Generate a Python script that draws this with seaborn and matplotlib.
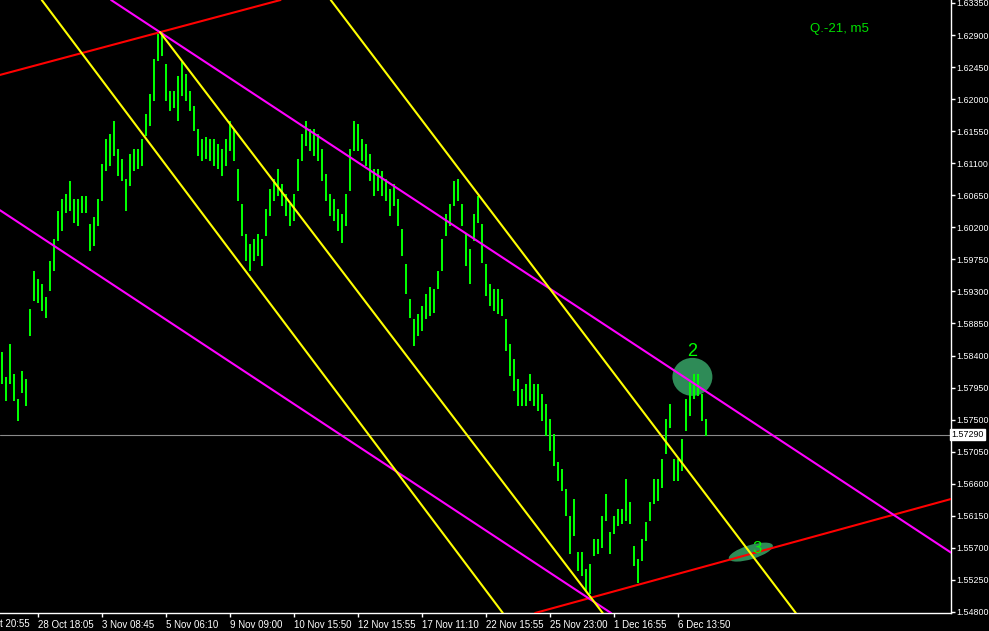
import numpy as np
import pandas as pd
import matplotlib
matplotlib.use("Agg")
import matplotlib.pyplot as plt
import matplotlib.transforms as mtransforms
from matplotlib.patches import Ellipse
import seaborn as sns

# ---------------- data ----------------
highs = [
    1.5844, 1.5808, 1.5855, 1.5813, 1.5778, 1.5817, 1.5806, 1.5904, 1.5957, 1.5946,
    1.5939, 1.5921, 1.5971, 1.6002, 1.6042, 1.6058, 1.6065, 1.6084, 1.6058, 1.6058,
    1.6063, 1.6063, 1.6023, 1.6033, 1.6058, 1.6108, 1.6143, 1.6150, 1.6168, 1.6129,
    1.6115, 1.6086, 1.6122, 1.6129, 1.6129, 1.6143, 1.6178, 1.6206, 1.6255, 1.6290,
    1.6294, 1.6248, 1.6210, 1.6210, 1.6231, 1.6251, 1.6234, 1.6210, 1.6189, 1.6157,
    1.6143, 1.6145, 1.6143, 1.6143, 1.6136, 1.6129, 1.6143, 1.6168, 1.6157, 1.6101,
    1.6051, 1.6009, 1.5995, 1.6002, 1.6009, 1.6002, 1.6044, 1.6072, 1.6086, 1.6101,
    1.6079, 1.6065, 1.6051, 1.6065, 1.6115, 1.6150, 1.6168, 1.6157, 1.6157, 1.6150,
    1.6129, 1.6093, 1.6065, 1.6058, 1.6044, 1.6037, 1.6065, 1.6129, 1.6168, 1.6164,
    1.6143, 1.6136, 1.6122, 1.6101, 1.6101, 1.6098, 1.6086, 1.6072, 1.6079, 1.6058,
    1.6016, 1.5967, 1.5918, 1.5890, 1.5897, 1.5908, 1.5925, 1.5935, 1.5932, 1.5957,
    1.6002, 1.6037, 1.6051, 1.6084, 1.6086, 1.6051, 1.6009, 1.5988, 1.6037, 1.6063,
    1.6023, 1.5967, 1.5939, 1.5932, 1.5932, 1.5918, 1.5890, 1.5855, 1.5834, 1.5806,
    1.5792, 1.5799, 1.5813, 1.5799, 1.5799, 1.5785, 1.5771, 1.5750, 1.5728, 1.5689,
    1.5679, 1.5651, 1.5613, 1.5637, 1.5563, 1.5563, 1.5539, 1.5546, 1.5581, 1.5581,
    1.5613, 1.5644, 1.5591, 1.5613, 1.5623, 1.5623, 1.5665, 1.5633, 1.5571, 1.5553,
    1.5581, 1.5605, 1.5633, 1.5665, 1.5665, 1.5693, 1.5750, 1.5771, 1.5693, 1.5693,
    1.5721, 1.5778, 1.5801, 1.5813, 1.5813, 1.5785, 1.5750]

lows = [
    1.5801, 1.5778, 1.5801, 1.5778, 1.5750, 1.5789, 1.5771, 1.5869, 1.5918, 1.5915,
    1.5904, 1.5894, 1.5932, 1.5960, 1.6002, 1.6016, 1.6042, 1.6044, 1.6027, 1.6023,
    1.6042, 1.6042, 1.5988, 1.5995, 1.6023, 1.6058, 1.6101, 1.6108, 1.6122, 1.6093,
    1.6086, 1.6044, 1.6079, 1.6101, 1.6103, 1.6108, 1.6150, 1.6164, 1.6199, 1.6255,
    1.6262, 1.6199, 1.6185, 1.6189, 1.6171, 1.6206, 1.6199, 1.6185, 1.6157, 1.6122,
    1.6115, 1.6117, 1.6115, 1.6108, 1.6103, 1.6093, 1.6108, 1.6129, 1.6115, 1.6058,
    1.6009, 1.5974, 1.5960, 1.5974, 1.5981, 1.5967, 1.6009, 1.6037, 1.6058, 1.6065,
    1.6051, 1.6037, 1.6023, 1.6030, 1.6072, 1.6115, 1.6136, 1.6129, 1.6122, 1.6115,
    1.6086, 1.6058, 1.6037, 1.6030, 1.6016, 1.5999, 1.6023, 1.6072, 1.6129, 1.6129,
    1.6115, 1.6108, 1.6086, 1.6065, 1.6072, 1.6065, 1.6058, 1.6037, 1.6051, 1.6023,
    1.5981, 1.5928, 1.5894, 1.5855, 1.5869, 1.5876, 1.5893, 1.5897, 1.5901, 1.5935,
    1.5960, 1.6009, 1.6023, 1.6051, 1.6058, 1.6023, 1.5967, 1.5942, 1.6002, 1.6027,
    1.5971, 1.5925, 1.5911, 1.5904, 1.5900, 1.5897, 1.5848, 1.5813, 1.5792, 1.5771,
    1.5771, 1.5771, 1.5778, 1.5771, 1.5764, 1.5750, 1.5728, 1.5707, 1.5686, 1.5665,
    1.5651, 1.5616, 1.5563, 1.5588, 1.5539, 1.5532, 1.5511, 1.5507, 1.5560, 1.5563,
    1.5571, 1.5609, 1.5563, 1.5591, 1.5602, 1.5605, 1.5609, 1.5605, 1.5546, 1.5522,
    1.5553, 1.5581, 1.5609, 1.5633, 1.5637, 1.5655, 1.5703, 1.5740, 1.5665, 1.5665,
    1.5679, 1.5735, 1.5757, 1.5780, 1.5785, 1.5750, 1.5728]

time_labels = ["27 Oct 20:55", "28 Oct 18:05", "3 Nov 08:45", "5 Nov 06:10",
               "9 Nov 09:00", "10 Nov 15:50", "12 Nov 15:55", "17 Nov 11:10",
               "22 Nov 15:55", "25 Nov 23:00", "1 Dec 16:55", "6 Dec 13:50"]
label_bars = [-7, 9, 25, 41, 57, 73, 89, 105, 121, 137, 153, 169]

price_ticks = [1.54800, 1.55250, 1.55700, 1.56150, 1.56600, 1.57050, 1.57500,
               1.57950, 1.58400, 1.58850, 1.59300, 1.59750, 1.60200, 1.60650,
               1.61100, 1.61550, 1.62000, 1.62450, 1.62900, 1.63350]

current_price = 1.5729

# trendline anchors: (bar index, price)
red_upper = [(-0.5, 1.6234), (39.5, 1.6294)]
red_lower = [(147.25, 1.5500), (236.25, 1.5637)]
magenta_upper = [(39.5, 1.6294), (236.25, 1.5567)]
magenta_lower = [(-0.5, 1.6044), (147.25, 1.5497)]
yellow_1 = [(10.5, 1.6335), (125.0, 1.5480)]
yellow_2 = [(39.5, 1.6294), (147.25, 1.5500)]   # ray starting at the top
yellow_3 = [(82.75, 1.6335), (198.25, 1.5480)]

marker2 = (172.6, 1.5810)
marker3 = (187.2, 1.5564)
title_text = "Q.-21, m5"

# ---------------- style ----------------
sns.set_style("dark", {"axes.facecolor": "black", "figure.facecolor": "black",
                       "axes.edgecolor": "white"})
plt.rcParams["font.family"] = ["Liberation Sans", "DejaVu Sans"]

W, H = 989, 631
fig = plt.figure(figsize=(W / 100, H / 100), dpi=100, facecolor="black")
ax = fig.add_axes([0, 18 / H, 951 / W, 613 / H])
ax.set_facecolor("black")

# ---------------- price bars ----------------
n = len(highs)
idx = np.arange(n)
df = pd.DataFrame({
    "bar": np.repeat(idx, 2),
    "price": np.ravel(np.column_stack([lows, highs])),
})
sns.lineplot(data=df, x="bar", y="price", units="bar", estimator=None,
             color="#00ff00", lw=1.3, ax=ax, legend=False, zorder=3,
             antialiased=False)

# ---------------- trend lines ----------------
lw = 1.5
for pts, col in [(red_upper, "#ff0000"), (red_lower, "#ff0000"),
                 (magenta_upper, "#ff00ff"), (magenta_lower, "#ff00ff"),
                 (yellow_1, "#ffff00"), (yellow_3, "#ffff00")]:
    ax.axline(pts[0], pts[1], color=col, lw=lw, zorder=4)
(x1, y1), (x2, y2) = yellow_2
ax.plot([x1, x1 + 3 * (x2 - x1)], [y1, y1 + 3 * (y2 - y1)],
        color="#ffff00", lw=lw, zorder=4)

# current price line
ax.axhline(current_price, color="#8a8a8a", lw=0.8, zorder=2)

# ---------------- markers ----------------
t2 = mtransforms.ScaledTranslation(marker2[0], marker2[1], ax.transData)
ax.add_patch(Ellipse((0, 0), 40, 38, transform=t2, facecolor="#2e8b57",
                     edgecolor="none", zorder=1))
ax.annotate("2", xy=marker2, xytext=(0, 17), textcoords="offset pixels",
            ha="center", va="bottom", color="#00ff00", fontsize=13, zorder=6)

t3 = mtransforms.ScaledTranslation(marker3[0], marker3[1], ax.transData)
ax.add_patch(Ellipse((0, 0), 46, 14, angle=17, transform=t3,
                     facecolor="#2e8b57", edgecolor="none", zorder=1))
ax.annotate("3", xy=marker3, xytext=(6, 4), textcoords="offset pixels",
            ha="center", va="center", color="#00ff00", fontsize=12, zorder=6)

# ---------------- axes ----------------
ax.set_xlim(-0.5, 237.25)
ax.set_ylim(1.63392 - 613 * 0.00014041, 1.63392)
ax.set_xlabel("")
ax.set_ylabel("")
ax.grid(False)

for s in ["left", "top"]:
    ax.spines[s].set_visible(False)
for s in ["right", "bottom"]:
    ax.spines[s].set_visible(True)
    ax.spines[s].set_color("white")
    ax.spines[s].set_linewidth(1)

ax.yaxis.tick_right()
ax.set_yticks(price_ticks)
ax.set_yticklabels([f"{v:.5f}" for v in price_ticks])
ax.tick_params(axis="y", colors="white", length=3, width=1, pad=1.0,
               labelsize=6.4, direction="out", right=True, left=False)

ax.set_xticks(label_bars[1:])
ax.set_xticklabels(time_labels[1:], ha="left")
ax.tick_params(axis="x", colors="white", length=3, width=1, pad=2,
               labelsize=7, direction="out", bottom=True)
ax.annotate(time_labels[0], xy=(label_bars[0], 0),
            xycoords=("data", "axes fraction"), xytext=(0, -4.2),
            textcoords="offset points", ha="left", va="top",
            color="white", fontsize=7, annotation_clip=False)

# current price box
ax.text(1.0, current_price, "1.57290",
        transform=mtransforms.blended_transform_factory(ax.transAxes, ax.transData),
        ha="left", va="center", color="black", fontsize=6.4, clip_on=False,
        bbox=dict(boxstyle="square,pad=0.15", facecolor="white", edgecolor="white"))

fig.text(810 / W, 1 - 29 / H, title_text, color="#00e000", fontsize=9.5,
         ha="left", va="center")

fig.savefig("out.png", dpi=100, facecolor="black")
